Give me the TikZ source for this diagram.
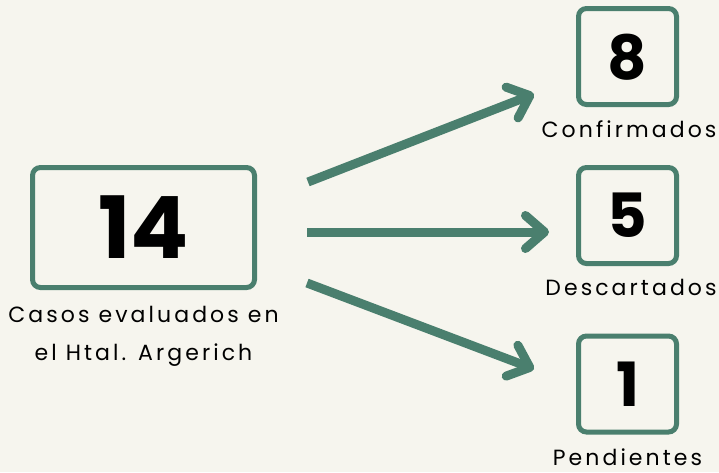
\documentclass[tikz,border=0pt]{standalone}
\usepackage{fontspec}
\usepackage{tikz}
\usetikzlibrary{arrows.meta}
\setmainfont{Poppins}
\newfontfamily\capfont{Poppins}[LetterSpace=14]
\definecolor{sage}{HTML}{4A7F6E}
\definecolor{cream}{HTML}{F6F5EE}

\begin{document}
\begin{tikzpicture}[x=1pt,y=-1pt,
    numbox/.style={draw=sage,line width=5pt,rounded corners=8pt,inner sep=0pt,
        text depth=0pt,minimum width=98pt,minimum height=96pt,
        font=\bfseries\fontsize{61}{61}\selectfont},
    bignum/.style={numbox,minimum width=222pt,minimum height=120pt,
        font=\bfseries\fontsize{86}{86}\selectfont},
    caption/.style={anchor=base,inner sep=0pt,align=center,
        font=\capfont\fontsize{22}{38}\selectfont},
    flow/.style={draw=sage,line width=9pt,
        -{Straight Barb[length=19pt,width=33pt,line cap=round,line join=round]}}]
    \useasboundingbox (0,0) rectangle (719,472);
    \fill[cream] (0,0) rectangle (719,472);

    % left box
    \node[bignum] (total) at (143.5,227.5) {14};
    \node[caption] (totalcap) at (143.5,360) {Casos evaluados en\\el Htal. Argerich};

    % right boxes
    \node[numbox] (conf) at (627.5,56.5) {8};
    \node[caption] (confcap) at (629,137) {Confirmados};
    \node[numbox] (desc) at (627.5,215.5) {5};
    \node[caption] (desccap) at (631,295) {Descartados};
    \node[numbox] (pend) at (627.5,384) {1};
    \node[caption] (pendcap) at (627.5,465) {Pendientes};

    % arrows
    \coordinate (up0) at (308,182);
    \coordinate (up1) at (534,94);
    \coordinate (mid0) at (307,232);
    \coordinate (mid1) at (549,232);
    \coordinate (low0) at (307,283);
    \coordinate (low1) at (534,369);
    \draw[flow] (up0) -- (up1);
    \draw[flow] (mid0) -- (mid1);
    \draw[flow] (low0) -- (low1);
\end{tikzpicture}
\end{document}
